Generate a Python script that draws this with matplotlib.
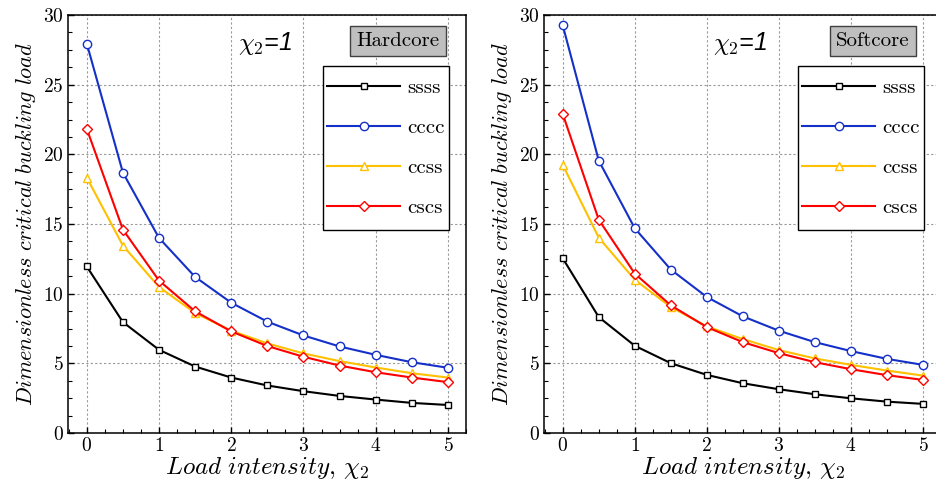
import matplotlib
matplotlib.use("Agg")
import matplotlib.pyplot as plt
from matplotlib.patches import Rectangle
from matplotlib.ticker import AutoMinorLocator, MultipleLocator

# ==========================================
# DATA
# ==========================================

chi2 = [0, 0.5, 1, 1.5, 2, 2.5, 3, 3.5, 4, 4.5, 5]

labels = ["ssss", "cccc", "ccss", "cscs"]

ssss_hard = [11.95, 7.96, 5.97, 4.77, 3.98, 3.41, 3.00, 2.66, 2.40, 2.16, 2.01]
cccc_hard = [27.95, 18.69, 14.00, 11.20, 9.35, 7.99, 7.00, 6.21, 5.61, 5.08, 4.68]
ccss_hard = [18.33, 13.45, 10.48, 8.61, 7.34, 6.43, 5.71, 5.16, 4.70, 4.29, 3.98]
cscs_hard = [21.83, 14.60, 10.94, 8.73, 7.29, 6.24, 5.47, 4.84, 4.36, 3.98, 3.65]

ssss_soft = [12.54, 8.32, 6.26, 5.01, 4.17, 3.57, 3.14, 2.78, 2.49, 2.25, 2.09]
cccc_soft = [29.26, 19.55, 14.69, 11.73, 9.76, 8.37, 7.34, 6.52, 5.88, 5.32, 4.89]
ccss_soft = [19.24, 14.02, 11.00, 9.04, 7.65, 6.74, 5.95, 5.35, 4.89, 4.48, 4.12]
cscs_soft = [22.90, 15.31, 11.44, 9.16, 7.60, 6.52, 5.73, 5.08, 4.58, 4.15, 3.81]

panels = [
    ("Hardcore", [ssss_hard, cccc_hard, ccss_hard, cscs_hard]),
    ("Softcore", [ssss_soft, cccc_soft, ccss_soft, cscs_soft]),
]

# ==========================================
# STYLE
# ==========================================

plt.rcParams["font.family"] = "serif"
plt.rcParams["font.serif"] = ["cmr10", "DejaVu Serif"]
plt.rcParams["mathtext.fontset"] = "cm"
plt.rcParams["axes.formatter.use_mathtext"] = True

colors = ["#000000", "#1430c8", "#ffc000", "#ff0000"]
markers = ["s", "o", "^", "D"]
msizes = [5, 6, 6, 5]

fig = plt.figure(figsize=(9.36, 4.84), dpi=100)

rects = [
    [68 / 936, 51 / 484, 398 / 936, 418 / 484],
    [544 / 936, 51 / 484, 397 / 936, 418 / 484],
]

for rect, (core, series) in zip(rects, panels):

    ax = fig.add_axes(rect)

    for vals, lab, c, m, ms in zip(series, labels, colors, markers, msizes):
        ax.plot(
            chi2,
            vals,
            color=c,
            lw=1.5,
            marker=m,
            ms=ms,
            mfc="white",
            mec=c,
            mew=1.0,
            label=lab
        )

    ax.set_xlim(-0.26, 5.25)
    ax.set_ylim(0, 30)

    ax.xaxis.set_major_locator(MultipleLocator(1))
    ax.yaxis.set_major_locator(MultipleLocator(5))
    ax.xaxis.set_minor_locator(AutoMinorLocator(4))
    ax.yaxis.set_minor_locator(AutoMinorLocator(4))

    ax.tick_params(
        which="both",
        direction="in",
        labelsize=14,
        top=False,
        right=False
    )
    ax.tick_params(which="major", length=4, width=1.0, pad=3)
    ax.tick_params(which="minor", length=3, width=0.8)

    for sp in ax.spines.values():
        sp.set_linewidth(1.1)

    ax.grid(
        True,
        which="major",
        color="#999999",
        linestyle=(0, (2, 2)),
        lw=0.8
    )

    ax.set_xlabel(
        r"$\mathit{Load\ intensity,}\,\chi_2$",
        fontsize=18,
        labelpad=0
    )

    ax.set_ylabel(
        r"$\mathit{Dimensionless\ critical\ buckling\ load}$",
        fontsize=16,
        labelpad=4
    )

    ax.text(
        0.495,
        0.933,
        r"$\chi_2$=1",
        transform=ax.transAxes,
        ha="center",
        va="center",
        family="Liberation Sans",
        style="italic",
        fontsize=18
    )

    ax.text(
        0.829,
        0.938,
        core,
        transform=ax.transAxes,
        ha="center",
        va="center",
        fontsize=15,
        bbox=dict(
            boxstyle="square,pad=0.3",
            fc="#bfbfbf",
            ec="#404040",
            lw=1.0
        )
    )

    # legend frame drawn as its own box, entries placed inside it
    ax.add_patch(
        Rectangle(
            (0.641, 0.486),
            0.316,
            0.392,
            transform=ax.transAxes,
            fc="white",
            ec="black",
            lw=1.0,
            zorder=4
        )
    )

    leg = ax.legend(
        loc="center",
        bbox_to_anchor=(0.799, 0.682),
        fontsize=15,
        frameon=False,
        numpoints=1,
        handlelength=3.5,
        handletextpad=0.35,
        labelspacing=1.02,
        borderpad=0,
        borderaxespad=0
    )
    leg.set_zorder(5)

plt.savefig("out.png", dpi=100)
plt.close()
